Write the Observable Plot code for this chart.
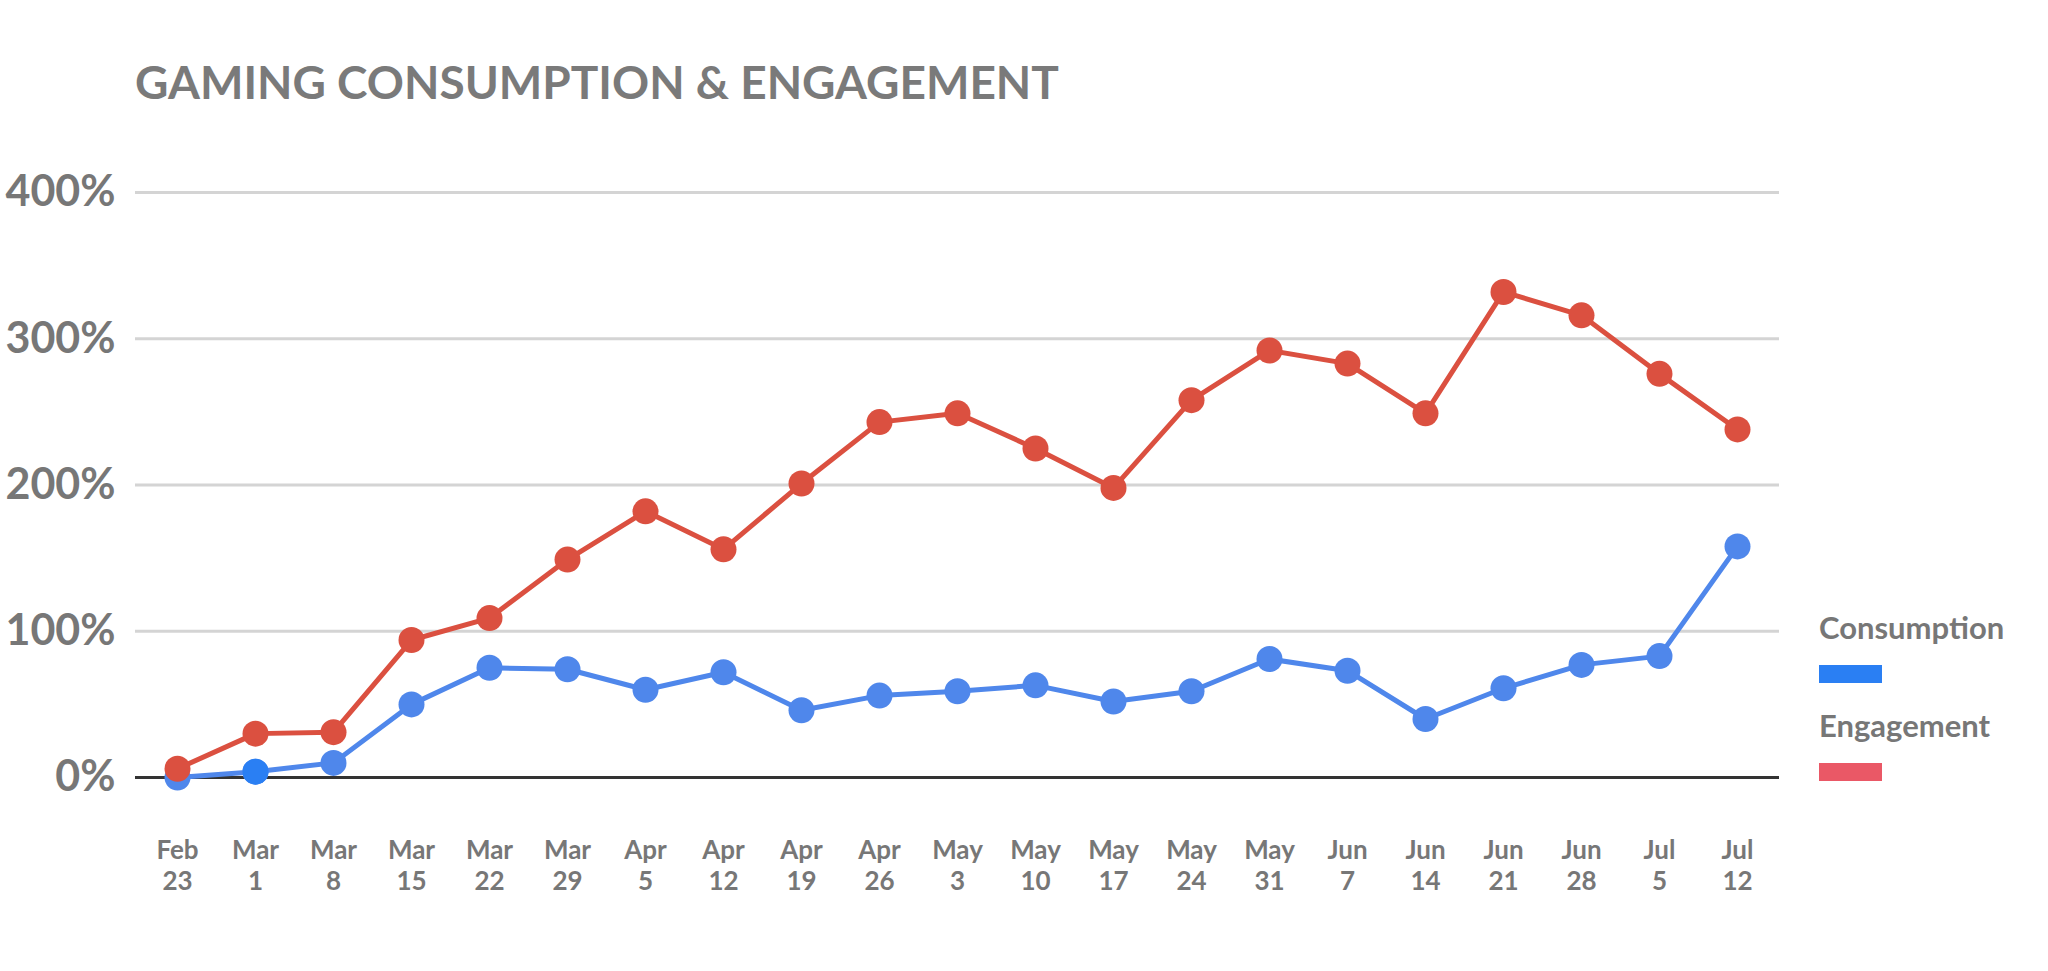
<!DOCTYPE html>
<html>
<head>
<meta charset="utf-8">
<script src="https://cdn.jsdelivr.net/npm/d3@7"></script>
<script src="https://cdn.jsdelivr.net/npm/@observablehq/plot@0.6"></script>
<style>
  html, body { margin: 0; padding: 0; background: #fff; }
  body { width: 2048px; height: 971px; position: relative; overflow: hidden; font-family: Lato, "Open Sans", sans-serif; }
  #title { box-sizing: border-box; height: 130px; padding-top: 59px; padding-left: 135px; font-size: 46px; line-height: 46px; font-weight: 700; color: #7a7a7a; }
  #legend { position: absolute; left: 1819px; top: 612px; font-size: 31px; line-height: 31px; font-weight: 700; color: #777; }
  .item { height: 98px; }
  .sw { width: 63px; height: 18px; margin-top: 22px; }
</style>
</head>
<body>
<div id="title">GAMING CONSUMPTION &amp; ENGAGEMENT</div>
<div id="chart"></div>
<div id="legend"></div>
<script>
const dates = ["Feb 23","Mar 1","Mar 8","Mar 15","Mar 22","Mar 29","Apr 5","Apr 12","Apr 19","Apr 26","May 3","May 10","May 17","May 24","May 31","Jun 7","Jun 14","Jun 21","Jun 28","Jul 5","Jul 12"];
const consumption = [0,4,10,50,75,74,60,72,46,56,59,63,52,59,81,73,40,61,77,83,158];
const engagement = [6,30,31,94,109,149,182,156,201,243,249,225,198,258,292,283,249,332,316,276,238];
const yTicks = [0,100,200,300,400];
const seriesNames = ["Consumption","Engagement"];
const lineColors = ["#4f87eb","#db5040"];
const swatchColors = ["#2a7ff3","#ea5866"];
const highlightDate = "Mar 1";

const consRows = dates.map((d,i) => ({date: d, value: consumption[i]}));
const engRows = dates.map((d,i) => ({date: d, value: engagement[i]}));

const chart = Plot.plot({
  width: 2048,
  height: 841,
  marginLeft: 135,
  marginRight: 269,
  marginTop: 62,
  marginBottom: 194,
  style: {fontFamily: "Lato, 'Open Sans', sans-serif", background: "#fff"},
  x: {type: "point", domain: dates},
  y: {domain: [0, 400]},
  marks: [
    Plot.ruleY(yTicks.filter(t => t > 0), {stroke: "#d4d4d4", strokeWidth: 3}),
    Plot.ruleY([0], {stroke: "#333", strokeWidth: 3}),
    Plot.axisY({ticks: yTicks, tickFormat: d => d + "%", tickSize: 0, tickPadding: 20, fontSize: 43, fontWeight: 700, fill: "#777", label: null}),
    Plot.axisX({tickSize: 0, tickPadding: 59, fontSize: 26, fontWeight: 700, fill: "#777", lineHeight: 1.2, tickFormat: d => d.replace(" ", "\n"), label: null}),
    Plot.line(consRows, {x: "date", y: "value", stroke: lineColors[0], strokeWidth: 5}),
    Plot.dot(consRows, {x: "date", y: "value", fill: lineColors[0], r: 13}),
    Plot.dot(consRows.filter(d => d.date === highlightDate), {x: "date", y: "value", fill: swatchColors[0], r: 13}),
    Plot.line(engRows, {x: "date", y: "value", stroke: lineColors[1], strokeWidth: 5}),
    Plot.dot(engRows, {x: "date", y: "value", fill: lineColors[1], r: 13})
  ]
});
document.getElementById("chart").appendChild(chart);

const legend = document.getElementById("legend");
seriesNames.forEach((name, i) => {
  const item = document.createElement("div");
  item.className = "item";
  const label = document.createElement("div");
  label.textContent = name;
  const sw = document.createElement("div");
  sw.className = "sw";
  sw.style.background = swatchColors[i];
  item.appendChild(label);
  item.appendChild(sw);
  legend.appendChild(item);
});
</script>
</body>
</html>
